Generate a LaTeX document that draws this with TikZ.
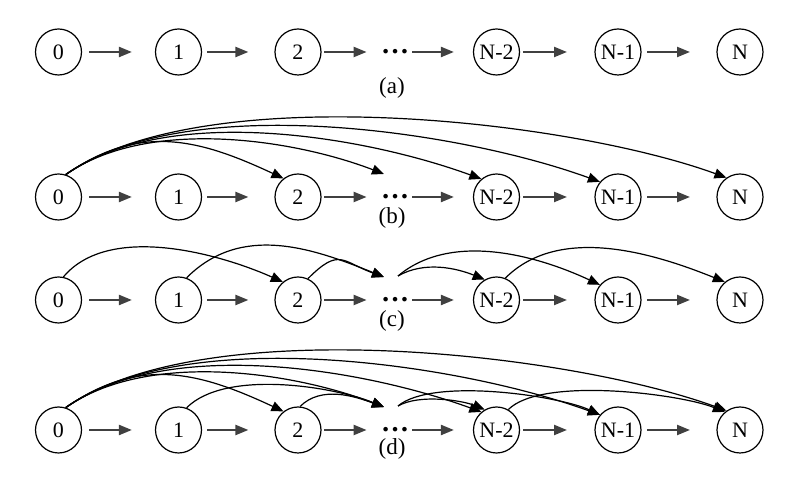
\documentclass[tikz,border=0pt]{standalone}
\usepackage{fontspec}
\setmainfont{Liberation Serif}
\usetikzlibrary{arrows.meta}
\begin{document}
\begin{tikzpicture}[x=0.5pt, y=0.5pt,
  state/.style={draw, circle, line width=0.6pt, minimum size=23pt, inner sep=0pt, font=\fontsize{11}{12}\selectfont},
  ellip/.style={inner sep=0pt, text height=2pt, text depth=0pt, font=\fontsize{14}{14}\selectfont\bfseries},
  tag/.style={font=\fontsize{11.5}{13}\selectfont},
  flow/.style={draw=black!75, line width=1.1pt, -{Triangle[length=6.5pt,width=5pt]}},
  jump/.style={line width=0.6pt, -{Triangle[length=6pt,width=5pt]}}]
  \useasboundingbox (0,0) rectangle (789,482);
  % the four chains
  \foreach \rw/\y in {a/430,b/285,c/182,d/52}
  {
    \node[state] (\rw0) at (58.5,\y) {0};
    \node[state] (\rw1) at (178.5,\y) {1};
    \node[state] (\rw2) at (298,\y) {2};
    \node[ellip] (\rw d) at (395,\y) {\ldots};
    \node[state] (\rw3) at (496.5,\y) {N-2};
    \node[state] (\rw4) at (618,\y) {N-1};
    \node[state] (\rw5) at (740,\y) {N};
    \coordinate (\rw i) at (384,\y+23);
    \coordinate (\rw o) at (398,\y+24);
    \foreach \p/\q/\s/\t in {0/1/3.5/11.5, 1/2/2.5/13, 2/d/1.2/7, d/3/1.5/9.5, 3/4/1.5/13.7, 4/5/2.7/13.2}
    {
      \draw[flow, shorten <=\s pt, shorten >=\t pt] (\rw\p) -- (\rw\q);
    }
  }
  % jumps from node 0
  \foreach \rw in {b,d}
  {
    \foreach \q/\a/\l in {2.128/155/1.07, i/159/0.8, 3.130/160/0.77, 4.140/160/0.71, 5.125/160/0.65}
    {
      \draw[jump] (\rw0.72) to[out=35, in=\a, looseness=\l] (\rw\q);
    }
  }
  % jumps over one node
  \draw[jump] (c0.78) to[out=50, in=156, looseness=0.82] (c2.130);
  \draw[jump] (c1.70) to[out=45, in=158, looseness=1.0] (ci);
  \draw[jump] (c2.65) to[out=45, in=160, looseness=1.5] (ci);
  \draw[jump] (co) to[out=30, in=158, looseness=0.9] (c3.120);
  \draw[jump] (co) to[out=40, in=155, looseness=0.88] (c4.140);
  \draw[jump] (c3.68) to[out=45, in=158, looseness=0.89] (c5.130);
  \draw[jump] (d1.70) to[out=45, in=158, looseness=0.71] (di);
  \draw[jump] (d2.85) to[out=45, in=160, looseness=0.92] (di);
  \draw[jump] (do) to[out=30, in=158, looseness=0.72] (d3.120);
  \draw[jump] (do) to[out=40, in=155, looseness=0.57] (d4.140);
  \draw[jump] (d3.60) to[out=45, in=158, looseness=0.56] (d5.130);
  % captions
  \node[tag] (la) at (392,394) {(a)};
  \node[tag] (lb) at (392,264) {(b)};
  \node[tag] (lc) at (392,161) {(c)};
  \node[tag] (ld) at (392,33) {(d)};
\end{tikzpicture}
\end{document}
